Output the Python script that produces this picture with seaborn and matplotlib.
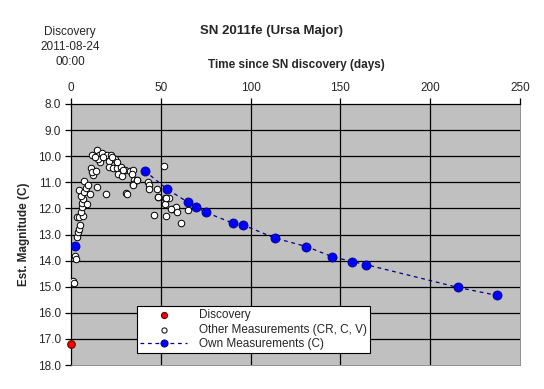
import numpy as np
import pandas as pd
import seaborn as sns
from matplotlib import pyplot as plt

# discovery point
disc_day = [0.0]
disc_mag = [17.2]

# other measurements (CR, C, V)
other_day = [1.3, 1.7, 2.2, 2.8, 3.1, 3.7, 4.4, 5.0, 3.1, 4.6, 6.9, 5.4, 5.9, 6.3, 6.9,
             5.4, 4.3, 7.4, 8.3, 7.2, 9.3, 8.7, 10.6, 10.9, 12.4, 11.5, 13.9, 11.9, 14.3,
             14.6, 15.7, 17.0, 16.1, 14.8, 13.5, 19.3, 19.8, 22.0, 21.3, 21.1, 23.5, 24.4,
             25.7, 28.1, 27.8, 26.3, 28.3, 30.2, 30.9, 32.8, 34.3, 33.7, 35.0, 36.9, 34.3,
             22.6, 18.0, 25.4, 28.7, 31.0, 34.6, 36.5, 43.0, 43.3, 43.3, 46.1, 48.1, 48.3,
             51.7, 52.4, 53.1, 52.2, 54.3, 56.3, 58.7, 61.0, 59.1, 65.0, 48.5, 53.0, 55.9]
other_mag = [14.80, 14.87, 13.83, 13.94, 13.10, 12.91, 12.78, 12.65, 12.33, 12.33, 12.31,
             12.14, 11.95, 11.79, 11.63, 11.54, 11.31, 11.37, 11.22, 10.95, 11.12, 11.85,
             11.45, 10.47, 10.73, 10.60, 10.58, 9.96, 9.77, 11.18, 9.96, 9.87, 10.22, 10.09,
             10.03, 11.46, 9.96, 9.94, 10.18, 10.41, 10.44, 10.09, 10.44, 10.41, 10.60, 10.67,
             10.77, 10.51, 11.41, 10.56, 10.51, 10.69, 10.90, 10.92, 11.08, 10.03, 10.03,
             10.22, 10.54, 11.43, 11.09, 10.92, 10.99, 11.12, 11.27, 12.27, 11.26, 11.56,
             10.38, 11.59, 12.31, 11.85, 11.59, 12.03, 11.95, 12.56, 12.13, 12.05, 11.56,
             11.60, 12.04]

# own measurements (C) - first one is not joined to the dashed line
own_early_day = [2.0]
own_early_mag = [13.45]
own_day = [41.0, 53.7, 65.0, 69.8, 75.0, 90.0, 96.0, 113.7, 131.0, 145.4, 156.7,
           164.0, 215.6, 237.0]
own_mag = [10.56, 11.27, 11.76, 11.95, 12.15, 12.56, 12.64, 13.14, 13.46, 13.85,
           14.04, 14.15, 15.03, 15.33]

x_ticks = [0, 50, 100, 150, 200, 250]
y_ticks = np.arange(8, 19, 1)

sns.set_style('white')
plt.rcParams['font.family'] = ['Liberation Sans', 'DejaVu Sans']

fig = plt.figure(figsize=(5.44, 3.89), dpi=100)
ax = fig.add_axes([71 / 544, 1 - 365 / 389, 449 / 544, 261 / 389])
ax.set_facecolor('#c0c0c0')

sns.scatterplot(x=disc_day, y=disc_mag, ax=ax, color='red', edgecolor='#600000',
                s=30, linewidth=0.8, label='Discovery', zorder=5, clip_on=False)
sns.scatterplot(x=other_day, y=other_mag, ax=ax, color='white', edgecolor='black',
                s=22, linewidth=0.7, label='Other Measurements (CR, C, V)', zorder=3)
sns.lineplot(x=own_day, y=own_mag, ax=ax, sort=False, color='#000080', linewidth=0.9,
             linestyle=(0, (3, 3)), marker='o', markersize=6.5, markerfacecolor='#0000ff',
             markeredgecolor='#000080', markeredgewidth=0.6,
             label='Own Measurements (C)', zorder=4)
sns.scatterplot(x=own_early_day, y=own_early_mag, ax=ax, color='#0000ff',
                edgecolor='#000080', s=42, linewidth=0.6, zorder=4, legend=False)

ax.set_xlim(0, 250)
ax.set_ylim(18, 8)
ax.set_xticks(x_ticks)
ax.set_yticks(y_ticks)
ax.set_yticklabels([f'{v:.1f}' for v in y_ticks])
ax.xaxis.tick_top()
ax.tick_params(axis='both', labelsize=8.5, length=4, width=0.9, color='black',
               direction='out', pad=3)
ax.tick_params(axis='x', top=True, bottom=False)
ax.tick_params(axis='y', left=True)

# Excel-style black grid, none along the bottom/right edges
for v in y_ticks[1:-1]:
    ax.axhline(v, color='black', linewidth=0.9, zorder=1)
for v in x_ticks[1:-1]:
    ax.axvline(v, color='black', linewidth=0.9, zorder=1)

for side in ['bottom', 'right']:
    ax.spines[side].set_color('#808080')
    ax.spines[side].set_linewidth(0.6)
for side in ['top', 'left']:
    ax.spines[side].set_color('black')
    ax.spines[side].set_linewidth(0.9)

ax.set_xlabel('')
ax.set_ylabel('Est. Magnitude (C)', fontsize=8.5, fontweight='bold', labelpad=6)

fig.text(272 / 544, 1 - 31 / 389, 'SN 2011fe (Ursa Major)', ha='center', va='center',
         fontsize=9.5, fontweight='bold')
fig.text(296 / 544, 1 - 65 / 389, 'Time since SN discovery (days)', ha='center',
         va='center', fontsize=8.5, fontweight='bold')
fig.text(70 / 544, 1 - 47 / 389, 'Discovery\n2011-08-24\n00:00', ha='center',
         va='center', fontsize=8.5, linespacing=1.3)

leg = ax.legend(loc='lower left', bbox_to_anchor=(137 / 544, 1 - 353 / 389),
                bbox_transform=fig.transFigure, fontsize=8.5, frameon=True,
                fancybox=False, edgecolor='black', framealpha=1, borderpad=0.25,
                labelspacing=0.2, handlelength=4.0, handletextpad=1.0,
                borderaxespad=0, markerscale=0.8)
leg.get_frame().set_linewidth(0.8)
leg.set_zorder(10)

fig.savefig('out.png', dpi=100)
